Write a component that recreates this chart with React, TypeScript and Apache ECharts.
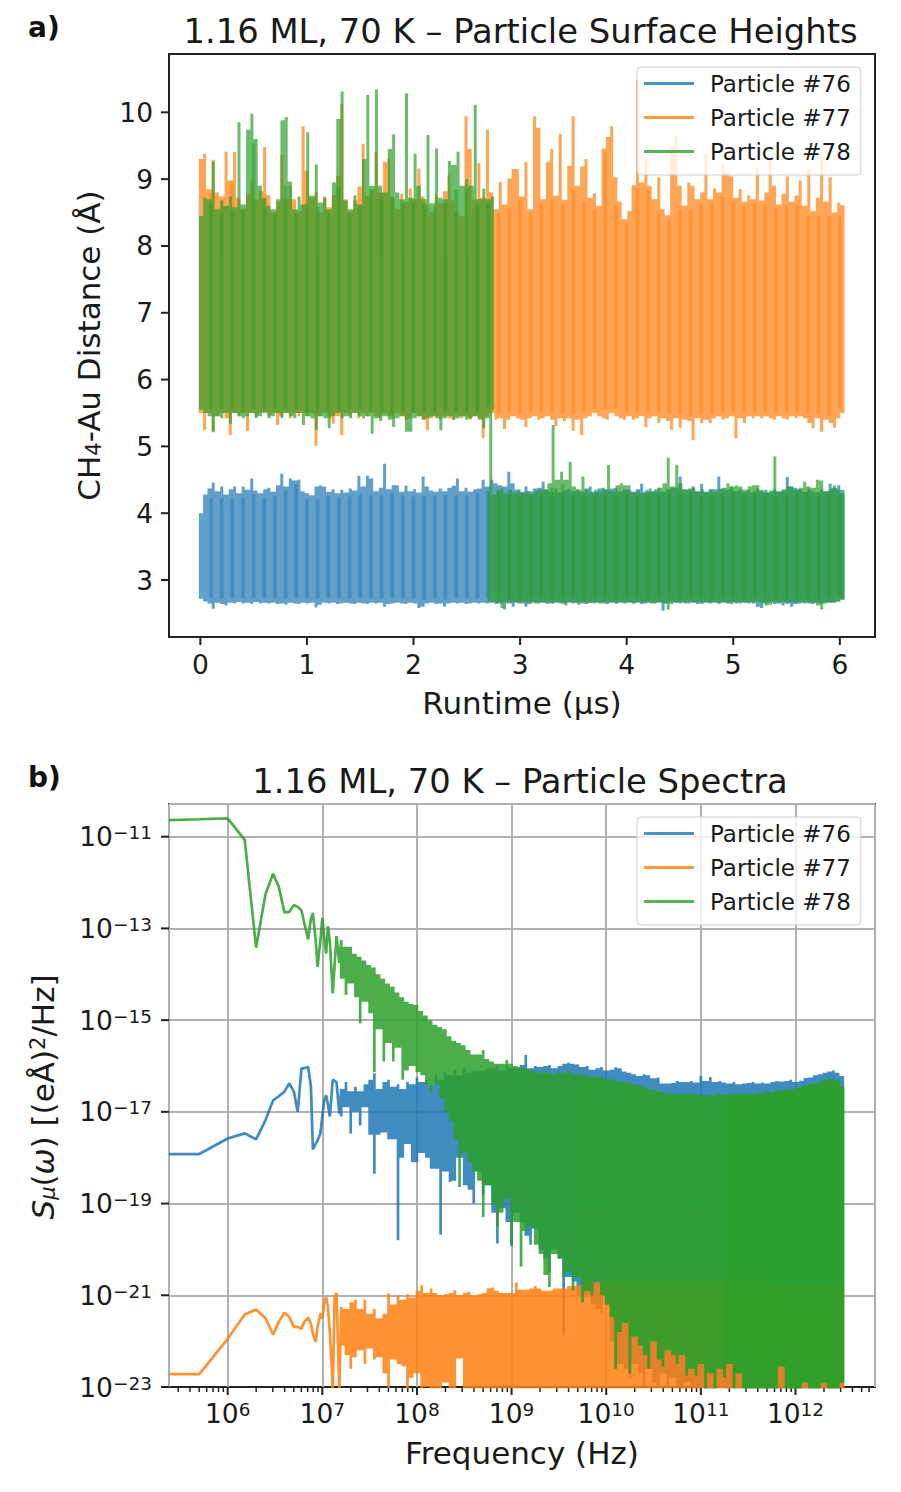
import React, { useEffect, useRef } from "react";
import * as echarts from "echarts";

const names = ["Particle #76", "Particle #77", "Particle #78"];
const colors = ["#1f77b4", "#ff7f0e", "#2ca02c"];

// panel a, sampled every 0.04 us
const high76 = [
  4.0, 4.28, 4.37, 4.46, 4.33, 4.4, 4.28, 4.36, 4.4, 4.3,
  4.4, 4.35, 4.52, 4.34, 4.3, 4.36, 4.38, 4.32, 4.42, 4.59,
  4.4, 4.52, 4.49, 4.5, 4.33, 4.3, 4.27, 4.4, 4.42, 4.4,
  4.32, 4.36, 4.3, 4.35, 4.31, 4.37, 4.34, 4.56, 4.4, 4.56,
  4.52, 4.33, 4.38, 4.74, 4.36, 4.42, 4.42, 4.32, 4.41, 4.33,
  4.36, 4.31, 4.55, 4.4, 4.34, 4.32, 4.37, 4.33, 4.38, 4.41,
  4.52, 4.33, 4.38, 4.32, 4.36, 4.37, 4.5, 4.4, 4.5, 4.45,
  4.42, 4.4, 4.62, 4.45, 4.35, 4.32, 4.4, 4.33, 4.37, 4.38,
  4.47, 4.35, 4.32, 4.37, 4.31, 4.34, 4.37, 4.33, 4.36, 4.32,
  4.37, 4.4, 4.32, 4.37, 4.38, 4.35, 4.37, 4.38, 4.33, 4.36,
  4.42, 4.32, 4.36, 4.44, 4.32, 4.37, 4.33, 4.38, 4.32, 4.36,
  4.38, 4.38, 4.55, 4.36, 4.35, 4.4, 4.33, 4.44, 4.32, 4.36,
  4.36, 4.55, 4.37, 4.35, 4.4, 4.33, 4.36, 4.32, 4.35, 4.31,
  4.37, 4.33, 4.35, 4.31, 4.36, 4.33, 4.35, 4.54, 4.4, 4.38,
  4.36, 4.32, 4.37, 4.34, 4.31, 4.36, 4.33, 4.44, 4.38, 4.42, 4.35,
];
const low76 = [
  2.72, 2.68, 2.65, 2.57, 2.66, 2.64, 2.62, 2.66, 2.65, 2.67,
  2.65, 2.66, 2.64, 2.67, 2.65, 2.66, 2.65, 2.66, 2.64, 2.65,
  2.63, 2.66, 2.65, 2.64, 2.66, 2.65, 2.66, 2.59, 2.63, 2.66,
  2.65, 2.66, 2.64, 2.65, 2.66, 2.65, 2.64, 2.66, 2.65, 2.64,
  2.66, 2.65, 2.66, 2.6, 2.64, 2.65, 2.66, 2.65, 2.64, 2.66,
  2.65, 2.58, 2.6, 2.65, 2.66, 2.64, 2.65, 2.6, 2.65, 2.66,
  2.65, 2.66, 2.64, 2.65, 2.66, 2.65, 2.66, 2.65, 2.66, 2.64,
  2.65, 2.56, 2.65, 2.6, 2.66, 2.65, 2.6, 2.64, 2.66, 2.65,
  2.66, 2.64, 2.65, 2.66, 2.65, 2.64, 2.66, 2.65, 2.66, 2.65,
  2.64, 2.66, 2.65, 2.66, 2.65, 2.64, 2.66, 2.65, 2.66, 2.65,
  2.66, 2.65, 2.66, 2.64, 2.65, 2.66, 2.65, 2.66, 2.54, 2.65,
  2.64, 2.66, 2.65, 2.66, 2.65, 2.66, 2.64, 2.65, 2.66, 2.65,
  2.66, 2.65, 2.66, 2.65, 2.64, 2.66, 2.65, 2.66, 2.65, 2.66,
  2.6, 2.58, 2.65, 2.66, 2.64, 2.65, 2.62, 2.65, 2.6, 2.64,
  2.65, 2.66, 2.65, 2.64, 2.66, 2.65, 2.65, 2.66, 2.66, 2.68, 2.72,
];
const high77 = [
  9.3, 9.38, 8.85, 9.29, 8.8, 8.74, 9.41, 8.98, 9.41, 8.72,
  8.55, 8.78, 8.98, 8.7, 8.82, 9.48, 8.76, 8.5, 8.66, 9.36,
  8.7, 8.9, 8.7, 8.52, 9.79, 9.13, 8.72, 8.8, 8.5, 8.74,
  8.58, 8.76, 9.05, 10.12, 8.7, 8.52, 8.68, 8.89, 9.53, 8.75,
  8.85, 9.4, 8.8, 9.26, 9.31, 8.72, 8.55, 8.78, 8.66, 8.86,
  8.7, 9.16, 8.74, 8.62, 8.5, 8.76, 8.64, 8.82, 9.06, 8.68,
  8.52, 8.45, 9.94, 9.45, 8.7, 9.24, 8.72, 9.74, 8.8, 8.55,
  8.96, 8.62, 9.01, 9.15, 9.15, 8.74, 9.26, 8.55, 9.94, 9.77,
  8.7, 9.26, 9.45, 8.75, 9.68, 8.69, 9.2, 9.94, 8.9, 9.19,
  9.3, 8.72, 8.79, 8.6, 9.46, 9.63, 9.79, 9.03, 8.66, 8.4,
  8.52, 8.91, 10.48, 8.95, 9.31, 8.9, 8.7, 9.03, 8.55, 8.46,
  9.49, 9.65, 8.9, 8.6, 8.95, 8.9, 8.7, 8.8, 9.38, 8.7,
  8.86, 8.8, 9.21, 9.09, 9.04, 8.72, 8.85, 8.66, 8.76, 8.7,
  9.16, 8.68, 8.8, 9.29, 8.9, 8.62, 8.78, 9.04, 8.66, 8.75,
  8.98, 8.6, 9.14, 8.52, 8.72, 9.33, 8.66, 9.03, 8.5, 8.65, 8.61,
];
const low77 = [
  5.5, 5.24, 5.5, 5.23, 5.45, 5.5, 5.42, 5.17, 5.5, 5.45,
  5.5, 5.23, 5.5, 5.45, 5.5, 5.52, 5.45, 5.5, 5.32, 5.45,
  5.5, 5.42, 5.5, 5.45, 5.5, 5.45, 5.5, 5.01, 5.45, 5.5,
  5.42, 5.34, 5.45, 5.17, 5.5, 5.45, 5.5, 5.42, 5.5, 5.45,
  5.5, 5.45, 5.42, 5.5, 5.45, 5.42, 5.5, 5.45, 5.4, 5.42,
  5.5, 5.45, 5.4, 5.24, 5.42, 5.45, 5.4, 5.45, 5.42, 5.4,
  5.45, 5.42, 5.45, 5.4, 5.45, 5.42, 5.12, 5.45, 5.5, 5.4,
  5.42, 5.26, 5.4, 5.45, 5.42, 5.4, 5.29, 5.42, 5.45, 5.4,
  5.42, 5.45, 5.4, 5.3, 5.42, 5.38, 5.42, 5.23, 5.4, 5.17,
  5.42, 5.45, 5.5, 5.45, 5.42, 5.4, 5.5, 5.45, 5.42, 5.4,
  5.45, 5.4, 5.42, 5.45, 5.29, 5.42, 5.45, 5.35, 5.42, 5.38,
  5.25, 5.42, 5.28, 5.4, 5.38, 5.09, 5.42, 5.35, 5.4, 5.35,
  5.42, 5.45, 5.4, 5.42, 5.45, 5.12, 5.42, 5.35, 5.45, 5.42,
  5.45, 5.42, 5.45, 5.42, 5.4, 5.45, 5.42, 5.4, 5.45, 5.42,
  5.45, 5.42, 5.35, 5.27, 5.42, 5.22, 5.4, 5.35, 5.28, 5.42, 5.5,
];
// particle 78 sits on the upper state up to 2.74 us, then drops to the lower one
const high78a = [
  8.45, 8.72, 8.7, 9.26, 8.55, 8.68, 8.6, 8.74, 8.58, 9.85,
  8.62, 9.74, 9.98, 9.6, 8.9, 8.72, 8.6, 8.55, 8.7, 9.88,
  9.93, 8.96, 8.55, 8.74, 8.62, 9.7, 8.75, 9.22, 8.65, 8.72,
  8.55, 8.95, 9.9, 10.31, 8.68, 8.55, 8.76, 8.62, 9.3, 10.26,
  8.9, 10.34, 8.9, 8.8, 9.45, 9.67, 8.8, 8.7, 10.28, 8.72,
  9.38, 8.9, 8.7, 9.66, 8.64, 9.46, 8.72, 8.7, 9.27, 9.21,
  9.41, 8.9, 9.0, 8.9, 10.11, 8.7, 8.86, 8.7, 8.74,
];
const low78a = [
  5.55, 5.5, 5.45, 5.21, 5.45, 5.42, 5.5, 5.34, 5.5, 5.45,
  5.42, 5.45, 5.5, 5.42, 5.45, 5.5, 5.42, 5.45, 5.5, 5.42,
  5.5, 5.45, 5.42, 5.5, 5.32, 5.45, 5.42, 5.25, 5.45, 5.42,
  5.27, 5.45, 5.5, 5.42, 5.45, 5.42, 5.5, 5.45, 5.42, 5.45,
  5.19, 5.42, 5.38, 5.45, 5.4, 5.29, 5.42, 5.45, 5.22, 5.22,
  5.42, 5.45, 5.4, 5.42, 5.45, 5.42, 5.24, 5.42, 5.45, 5.4,
  5.42, 5.45, 5.4, 5.42, 5.45, 5.4, 5.27, 5.42, 5.55,
];
const high78b = [
  4.32, 4.28, 4.35, 4.37, 4.3, 4.35, 4.31, 4.36, 4.3, 4.33,
  4.29, 4.34, 4.35, 4.36, 4.45, 5.32, 4.5, 4.62, 4.5, 4.77,
  4.4, 4.35, 4.55, 4.36, 4.31, 4.35, 4.32, 4.36, 4.72, 4.33,
  4.42, 4.45, 4.42, 4.35, 4.31, 4.34, 4.3, 4.35, 4.32, 4.36,
  4.38, 4.45, 4.83, 4.4, 4.72, 4.45, 4.35, 4.37, 4.38, 4.32,
  4.36, 4.31, 4.35, 4.32, 4.36, 4.38, 4.45, 4.4, 4.42, 4.4,
  4.35, 4.4, 4.42, 4.42, 4.35, 4.31, 4.34, 4.85, 4.32, 4.35,
  4.4, 4.4, 4.35, 4.38, 4.47, 4.4, 4.38, 4.5, 4.49, 4.33,
  4.35, 4.42, 4.35, 4.3,
];
const low78b = [
  2.68, 2.67, 2.66, 2.58, 2.67, 2.66, 2.67, 2.65, 2.67, 2.66,
  2.67, 2.65, 2.67, 2.66, 2.67, 2.65, 2.67, 2.66, 2.62, 2.67,
  2.66, 2.63, 2.67, 2.65, 2.66, 2.67, 2.65, 2.67, 2.66, 2.67,
  2.65, 2.67, 2.66, 2.67, 2.65, 2.67, 2.66, 2.67, 2.65, 2.66,
  2.67, 2.65, 2.56, 2.67, 2.66, 2.67, 2.65, 2.67, 2.66, 2.67,
  2.65, 2.67, 2.66, 2.67, 2.65, 2.67, 2.66, 2.67, 2.65, 2.67,
  2.66, 2.67, 2.65, 2.67, 2.66, 2.62, 2.63, 2.67, 2.66, 2.67,
  2.65, 2.67, 2.66, 2.67, 2.65, 2.67, 2.66, 2.62, 2.56, 2.67,
  2.66, 2.67, 2.68, 2.7,
];
// the single jump between the two states of particle 78
const drop78 = [
  [2.725, 5.6],
  [2.725, 4.3],
];

// panel b, log10 of frequency and of S, read point by point at the low end
const lowFreq78 = [5.38, 5.7, 6, 6.18, 6.3, 6.4, 6.48, 6.54, 6.6, 6.65, 6.7, 6.74, 6.78, 6.81, 6.85, 6.88, 6.9, 6.93, 6.95, 6.98, 7, 7.02, 7.04, 7.06, 7.08, 7.11, 7.15, 7.18];
const lowVal78 = [-10.64, -10.62, -10.6, -11.07, -13.42, -12.25, -11.81, -12.09, -12.65, -12.64, -12.49, -12.53, -12.61, -12.89, -13.24, -12.78, -12.66, -13.25, -13.84, -13.25, -12.77, -13.2, -13.55, -12.95, -13.3, -14.42, -13.17, -13.75];
const lowFreq76 = [5.38, 5.7, 6, 6.18, 6.3, 6.4, 6.48, 6.54, 6.6, 6.65, 6.7, 6.74, 6.78, 6.81, 6.85, 6.88, 6.9, 6.93, 6.95, 6.98, 7, 7.02, 7.04, 7.06, 7.08, 7.11, 7.15, 7.18];
const lowVal76 = [-17.92, -17.92, -17.58, -17.47, -17.6, -17.18, -16.75, -16.66, -16.56, -16.38, -16.56, -17.0, -16.05, -16.05, -16.02, -16.45, -17.82, -17.7, -17.62, -17.47, -17.1, -16.75, -16.64, -16.85, -17.1, -16.3, -16.35, -17.04];
const lowFreq77 = [5.38, 5.7, 6, 6.18, 6.3, 6.4, 6.48, 6.54, 6.6, 6.65, 6.7, 6.74, 6.78, 6.81, 6.85, 6.88, 6.9, 6.93, 6.95, 6.98, 7, 7.02, 7.04, 7.06, 7.08, 7.1, 7.11, 7.13, 7.15, 7.18];
const lowVal77 = [-22.72, -22.72, -21.95, -21.42, -21.31, -21.5, -21.86, -21.58, -21.38, -21.47, -21.69, -21.69, -21.73, -21.58, -21.49, -21.62, -21.84, -22.02, -21.69, -21.4, -21.51, -21.18, -21.04, -21.25, -21.84, -22.56, -23.1, -21.04, -20.95, -23.1];

// panel b dense part, sampled every 0.05 decades from 10^7.2 to 10^12.5
const high76b = [
  -16.5, -16.35, -16.55, -16.45, -16.55, -16.4, -16.3, -16.16, -16.5, -16.35,
  -16.3, -16.45, -16.4, -16.5, -16.35, -16.4, -16.25, -16.35, -16.3, -16.4,
  -16.2, -16.3, -16.15, -16.2, -16.1, -16.2, -16.05, -16.15, -16.1, -16.1,
  -16.1, -16.05, -16.05, -16, -16.1, -15.98, -16.05, -16.05, -15.98, -15.76,
  -16.05, -16, -16.02, -16, -15.98, -16.05, -16, -15.95, -15.93, -15.95,
  -15.97, -16.02, -16, -16.08, -16.05, -16.02, -16.1, -16.08, -16.03, -16.05,
  -16.12, -16.15, -16.18, -16.22, -16.18, -16.2, -16.27, -16.25, -16.38, -16.38,
  -16.37, -16.33, -16.35, -16.35, -16.33, -16.36, -16.22, -16.33, -16.24, -16.35,
  -16.33, -16.36, -16.38, -16.35, -16.4, -16.38, -16.37, -16.35, -16.38, -16.36,
  -16.38, -16.35, -16.33, -16.34, -16.33, -16.3, -16.35, -16.32, -16.26, -16.25,
  -16.2, -16.18, -16.15, -16.12, -16.1, -16.15, -16.22,
];
const low76b = [
  -17.1, -16.9, -17.47, -17.0, -17.3, -16.9, -17.5, -18.35, -17.5, -17.45,
  -17.6, -17.6, -19.8, -18, -17.7, -18.1, -18.1, -17.9, -18, -18.24,
  -18.24, -19.68, -18.3, -18.53, -18.5, -18.0, -18.6, -18.7, -19, -18.3,
  -18.8, -18.6, -19.2, -19.87, -19.1, -19.4, -19.93, -19.2, -19.4, -19.7,
  -19.9, -19.55, -20, -20.2, -20.5, -20, -20.2, -21.87, -20.6, -20.7,
  -21, -21, -21, -21.2, -21.3, -21.4, -21, -22, -22.5, -22.5,
  -22.6, -22.8, -22.5, -22.7, -23, -22.6, -22.9, -23, -22.7, -23,
  -22.8, -23, -23.2, -22.9, -23, -23.2, -23, -23.1, -23.2, -23.3,
  -23, -23.2, -23.1, -23.3, -23.2, -23, -23.3, -23.1, -23.2, -23.3,
  -23.1, -23.2, -23.3, -23.1, -23.2, -23.3, -23.2, -23.1, -23.3, -23.2,
  -23.3, -23.1, -23.2, -23.3, -23.2, -23.1, -23.4,
];
const high77b = [
  -21.25, -21.3, -21.15, -21.1, -21.3, -21.1, -21.4, -21.3, -21.5, -21.4,
  -20.96, -21.2, -21.0, -21.1, -20.98, -21.05, -20.9, -20.78, -20.95, -20.85,
  -20.95, -21, -20.98, -20.95, -20.89, -21, -20.95, -20.92, -21, -20.98,
  -20.95, -20.85, -20.83, -20.9, -20.95, -20.95, -20.95, -20.72, -20.88, -20.88,
  -20.85, -20.8, -20.85, -20.9, -20.9, -20.85, -20.85, -20.85, -20.8, -20.8,
  -20.78, -20.75, -20.68, -20.7, -20.72, -20.7, -20.68, -20.7, -20.7, -20.68,
  -20.7, -20.68, -20.7, -20.66, -20.68, -20.7, -20.68, -20.66, -20.7, -20.68,
  -20.7, -20.66, -20.68, -20.7, -20.66, -20.68, -20.7, -20.66, -20.68, -20.65,
  -20.68, -20.66, -20.7, -20.65, -20.68, -20.66, -20.7, -20.68, -20.66, -20.7,
  -20.72, -20.7, -20.75, -20.72, -20.75, -20.7, -20.75, -20.72, -20.75, -20.7,
  -20.75, -20.72, -20.7, -20.75, -20.72, -20.75, -20.8,
];
const low77b = [
  -22.1, -22.3, -22.6, -22.35, -22.2, -22.5, -22.16, -22.4, -22.35, -22.7,
  -23.1, -22.4, -22.5, -22.55, -23.1, -22.8, -22.7, -23.1, -23, -23.2,
  -23.3, -23.1, -22.9, -23.2, -23.4, -22.38, -23.2, -23.3, -23.2, -23.4,
  -23.3, -23.4, -23.2, -23.4, -23.3, -23.4, -23.5, -23.3, -23.4, -23.5,
  -23.3, -23.4, -23.5, -23.3, -23.4, -23.5, -23.4, -23.5, -23.3, -23.4,
  -23.5, -23.4, -23.3, -23.5, -23.4, -23.5, -23.3, -23.4, -23.5, -23.4,
  -23.5, -23.4, -23.5, -23.3, -23.4, -23.5, -23.4, -23.5, -23.4, -23.3,
  -23.5, -23.4, -23.5, -23.4, -23.3, -23.5, -23.4, -23.5, -23.4, -23.5,
  -23.4, -23.5, -23.3, -23.4, -23.5, -23.4, -23.5, -23.4, -23.3, -23.5,
  -23.4, -23.5, -23.4, -23.5, -23.3, -23.4, -23.5, -23.4, -23.5, -23.4,
  -23.5, -23.4, -23.5, -23.3, -23.4, -23.5, -23.5,
];
const high78c = [
  -13.25, -13.4, -13.4, -13.55, -13.62, -13.7, -13.8, -13.85, -14, -14.1,
  -14.2, -14.27, -14.4, -14.5, -14.6, -14.65, -14.67, -14.8, -14.9, -15,
  -15.1, -15.15, -15.2, -15.35, -15.45, -15.5, -15.55, -15.65, -15.75, -15.75,
  -15.65, -15.85, -15.9, -15.95, -15.95, -15.87, -15.95, -16, -16.02, -16.05,
  -16.1, -16.12, -16.15, -16.12, -16.15, -16.17, -16.12, -16.15, -16.12, -16.15,
  -16.18, -16.2, -16.2, -16.25, -16.22, -16.25, -16.28, -16.3, -16.3, -16.35,
  -16.35, -16.38, -16.4, -16.42, -16.45, -16.5, -16.5, -16.55, -16.58, -16.6,
  -16.6, -16.62, -16.6, -16.62, -16.6, -16.62, -16.64, -16.63, -16.65, -16.62,
  -16.6, -16.63, -16.6, -16.62, -16.6, -16.62, -16.6, -16.62, -16.58, -16.6,
  -16.55, -16.58, -16.52, -16.55, -16.5, -16.52, -16.48, -16.45, -16.42, -16.4,
  -16.38, -16.35, -16.3, -16.28, -16.3, -16.32, -16.45,
];
const low78c = [
  -14.1, -14.45, -14.2, -14.5, -15.07, -14.6, -14.85, -16.13, -15.2, -15.9,
  -15.5, -15.9, -15.6, -16.3, -16.1, -16, -16.13, -16.2, -16.4, -16.6,
  -16.4, -16.7, -17, -17.2, -17.6, -18.64, -17.9, -18.1, -18.3, -18.5,
  -19.3, -18.6, -19, -19.5, -19.2, -18.9, -19.9, -19.4, -20.38, -19.6,
  -19.5, -19.9, -20.1, -20.56, -20.82, -20.1, -20.2, -20.6, -20.5, -20.9,
  -20.6, -21.15, -20.9, -21, -20.7, -21, -21.2, -21.47, -22.6, -21.8,
  -21.6, -22.7, -21.9, -22.1, -22.3, -22.6, -22, -22.4, -22.56, -22.2,
  -22.3, -22.5, -22.3, -22.75, -22.6, -22.75, -22.5, -23.1, -22.7, -23.2,
  -22.6, -22.8, -22.5, -23.2, -22.7, -23.2, -23.1, -23.2, -23.2, -23.3,
  -23.3, -23.3, -23.3, -22.55, -23.3, -23.3, -23.3, -23.3, -22.9, -23.3,
  -23.3, -23.3, -22.9, -23.3, -23.3, -23.3, -22.9,
];

// tick positions
const runtimeTicks = [0, 1, 2, 3, 4, 5, 6];
const distanceTicks = [3, 4, 5, 6, 7, 8, 9, 10];
const freqDecades = [6, 7, 8, 9, 10, 11, 12];
const specDecades = [-23, -21, -19, -17, -15, -13, -11];
const minorMantissas = [2, 3, 4, 5, 6, 7, 8, 9];
const minorDecades = [5, 6, 7, 8, 9, 10, 11, 12];

const font = "DejaVu Sans";
const minA = [-0.294, 2.147];
const maxA = [6.33, 10.873];
const logMinX = 5.38;
const logMaxX = 12.84;
const logMaxY = -10.287;

// one upright stroke per sample, with a filler stroke half way that covers what
// both neighbours share, so the band stays solid and one path keeps one opacity
const band = (start: number, step: number, highs: number[], lows: number[]) => {
  const out: (number | null)[][] = [];
  highs.forEach((h, i) => {
    const x = start + i * step;
    out.push([x, h], [x, lows[i]], [x, null]);
    if (i < highs.length - 1) {
      const top = Math.min(h, highs[i + 1]);
      const bottom = Math.max(lows[i], lows[i + 1]);
      if (top > bottom) out.push([x + step / 2, top], [x + step / 2, bottom], [x + step / 2, null]);
    }
  });
  return out;
};

// the darker upright bands every 0.1 us, as tall as the samples around them allow
const strips = (
  start: number,
  step: number,
  highs: number[],
  lows: number[],
  from: number,
  to: number,
) => {
  const out: (number | null)[][] = [];
  for (let t = from; t <= to + 1e-6; t += 0.1) {
    const i = Math.round((t - start) / step);
    const hs = highs.slice(Math.max(i - 1, 0), i + 2);
    const ls = lows.slice(Math.max(i - 1, 0), i + 2);
    out.push([t, Math.min(...hs) - 0.06], [t, Math.max(...ls) + 0.06], [t, null]);
  }
  return out;
};

const toLog = (rows: (number | null)[][]) =>
  rows.map(([x, y]) => [10 ** (x as number), y === null ? null : 10 ** y]);

const lineSeries = (
  name: string,
  color: string,
  data: any[],
  index: number,
  width: number,
  opacity: number,
) => ({
  name,
  type: "line",
  xAxisIndex: index,
  yAxisIndex: index,
  data,
  symbol: "none",
  showSymbol: false,
  silent: true,
  clip: true,
  lineStyle: { color, width, opacity },
  itemStyle: { color },
});

// ticks are drawn here so that none appears at the ends of the axes
const tickSeries = (index: number, data: number[][], dx: number, dy: number, width: number) => ({
  type: "custom",
  xAxisIndex: index,
  yAxisIndex: index,
  silent: true,
  data,
  renderItem: (_params: any, api: any) => {
    const p = api.coord([api.value(0), api.value(1)]);
    return {
      type: "line",
      shape: { x1: p[0], y1: p[1], x2: p[0] + dx, y2: p[1] + dy },
      style: { stroke: "#222222", lineWidth: width },
    };
  },
});

const expRich = {
  b: { fontFamily: font, fontSize: 26.5, fill: "#1a1a1a", color: "#1a1a1a" },
  e: { fontFamily: font, fontSize: 18.5, fill: "#1a1a1a", color: "#1a1a1a", verticalAlign: "top" },
};

// powers of ten for the log axes, third value of each row is the exponent
const powerLabels = (data: number[][], dx: number, dy: number, align: string, verticalAlign: string) => ({
  type: "custom",
  xAxisIndex: 1,
  yAxisIndex: 1,
  silent: true,
  data,
  renderItem: (_params: any, api: any) => {
    const p = api.coord([api.value(0), api.value(1)]);
    const n = api.value(2);
    return {
      type: "text",
      x: p[0] + dx,
      y: p[1] + dy,
      style: {
        text: `{b|10}{e|${n < 0 ? "\u2212" + -n : n}}`,
        rich: expRich,
        align,
        verticalAlign,
      },
    };
  },
});

const legendFor = (top: number) => ({
  data: names.map((name) => ({ name, itemStyle: { opacity: 0.8 } })),
  orient: "vertical",
  left: 637,
  top,
  icon: "rect",
  itemWidth: 50,
  itemHeight: 3,
  itemGap: 11,
  padding: [5, 10, 12, 7],
  backgroundColor: "rgba(255,255,255,0.8)",
  borderColor: "#cccccc",
  borderWidth: 1,
  borderRadius: 4,
  textStyle: { fontFamily: font, fontSize: 23, color: "#1a1a1a", padding: [0, 0, 0, 11] },
});

const axisBits = {
  axisLine: { show: false, onZero: false },
  axisTick: { show: false },
};

const App: React.FC = () => {
  const chartRef = useRef<HTMLDivElement>(null);

  useEffect(() => {
    const chartDom = chartRef.current;
    if (!chartDom) return;
    const myChart = echarts.init(chartDom, undefined, { renderer: "svg" });

    const data76 = band(0, 0.0402, high76, low76);
    const data77 = band(0, 0.0402, high77, low77);
    const data78 = [
      ...band(0, 0.0403, high78a, low78a),
      [2.74, null],
      ...drop78,
      [2.72, null],
      ...band(2.71, 0.04, high78b, low78b),
    ];

    const pairs = (xs: number[], ys: number[]) => xs.map((x, i) => [x, ys[i]]);
    const spec76 = toLog([...pairs(lowFreq76, lowVal76), ...band(7.2, 0.05, high76b, low76b)]);
    const spec77 = toLog([...pairs(lowFreq77, lowVal77), ...band(7.2, 0.05, high77b, low77b)]);
    const spec78 = toLog([...pairs(lowFreq78, lowVal78), ...band(7.2, 0.05, high78c, low78c)]);
    // the curve is so dense at high frequency that it nearly hides what lies below
    const spec78mid = toLog(band(9.7, 0.05, high78c.slice(50, 82), low78c.slice(50, 82)));
    const spec78end = toLog(band(11.25, 0.05, high78c.slice(81), low78c.slice(81)));

    const xMinorMarks = minorDecades
      .flatMap((d) => minorMantissas.map((m) => m * 10 ** d))
      .filter((v) => v > 10 ** logMinX && v < 10 ** logMaxX)
      .map((v) => [v, 1e-23]);

    const option: any = {
      animation: false,
      backgroundColor: "#ffffff",
      title: [
        {
          text: "1.16 ML, 70 K \u2013 Particle Surface Heights",
          left: 515.5,
          top: 9,
          textAlign: "center",
          textStyle: { fontFamily: font, fontSize: 33.8, fontWeight: "normal", color: "#1a1a1a" },
        },
        {
          text: "1.16 ML, 70 K \u2013 Particle Spectra",
          left: 515,
          top: 759,
          textAlign: "center",
          textStyle: { fontFamily: font, fontSize: 33.8, fontWeight: "normal", color: "#1a1a1a" },
        },
        {
          text: "a)",
          left: 23,
          top: 8,
          textStyle: { fontFamily: font, fontSize: 28, fontWeight: "bold", color: "#111111" },
        },
        {
          text: "b)",
          left: 23,
          top: 758,
          textStyle: { fontFamily: font, fontSize: 28, fontWeight: "bold", color: "#111111" },
        },
      ],
      legend: [legendFor(67), legendFor(817)],
      grid: [
        { left: 169, top: 54, width: 706, height: 583, show: true, borderColor: "#222222", borderWidth: 2, outerBoundsMode: "none" },
        { left: 169, top: 804, width: 706, height: 583, show: true, borderColor: "#222222", borderWidth: 2, outerBoundsMode: "none" },
      ],
      graphic: [
        {
          type: "text",
          x: 43,
          y: 1097,
          rotation: Math.PI / 2,
          style: {
            text: "{i|S}{u|\u03bc}{n|(}{i|\u03c9}{n|) [(e\u00c5)}{p|2}{n|/Hz]}",
            align: "center",
            verticalAlign: "middle",
            fill: "#1a1a1a",
            rich: {
              i: { fontFamily: font, fontSize: 31, fontStyle: "italic", fill: "#1a1a1a" },
              n: { fontFamily: font, fontSize: 31, fill: "#1a1a1a" },
              u: { fontFamily: font, fontSize: 21, fontStyle: "italic", fill: "#1a1a1a", verticalAlign: "bottom" },
              p: { fontFamily: font, fontSize: 21, fill: "#1a1a1a", verticalAlign: "top" },
            },
          },
        },
      ],
      xAxis: [
        {
          type: "value",
          gridIndex: 0,
          min: minA[0],
          max: maxA[0],
          minInterval: 1,
          maxInterval: 1,
          splitLine: { show: false },
          ...axisBits,
          axisLabel: { fontFamily: font, fontSize: 26.5, color: "#1a1a1a", margin: 14, customValues: runtimeTicks },
          name: "Runtime (\u00b5s)",
          nameLocation: "middle",
          nameGap: 50,
          nameTextStyle: { fontFamily: font, fontSize: 31, color: "#1a1a1a" },
        },
        {
          type: "log",
          gridIndex: 1,
          min: 10 ** logMinX,
          max: 10 ** logMaxX,
          splitLine: { show: true, lineStyle: { color: "#b0b0b0", width: 2 } },
          ...axisBits,
          axisLabel: { show: false },
          name: "Frequency (Hz)",
          nameLocation: "middle",
          nameGap: 50,
          nameTextStyle: { fontFamily: font, fontSize: 31, color: "#1a1a1a" },
        },
      ],
      yAxis: [
        {
          type: "value",
          gridIndex: 0,
          min: minA[1],
          max: maxA[1],
          minInterval: 1,
          maxInterval: 1,
          splitLine: { show: false },
          ...axisBits,
          axisLabel: { fontFamily: font, fontSize: 26.5, color: "#1a1a1a", margin: 16, customValues: distanceTicks },
          name: "CH{s|4}-Au Distance (\u00c5)",
          nameLocation: "middle",
          nameGap: 65,
          nameTextStyle: {
            fontFamily: font,
            fontSize: 31,
            color: "#1a1a1a",
            rich: {
              s: { fontFamily: font, fontSize: 21, color: "#1a1a1a", verticalAlign: "bottom" },
            },
          },
        },
        {
          type: "log",
          gridIndex: 1,
          min: 1e-23,
          max: 10 ** logMaxY,
          interval: 2,
          splitLine: { show: true, lineStyle: { color: "#b0b0b0", width: 2 } },
          ...axisBits,
          axisLabel: { show: false },
        },
      ],
      series: [
        lineSeries(names[0], colors[0], data76, 0, 3, 0.7),
        lineSeries("strip76", colors[0], strips(0, 0.0402, high76, low76, 0.1, 6), 0, 3.5, 0.5),
        lineSeries(names[1], colors[1], data77, 0, 3, 0.7),
        lineSeries("strip77", colors[1], strips(0, 0.0402, high77, low77, 0.1, 6), 0, 3.5, 0.5),
        lineSeries(names[2], colors[2], data78, 0, 3, 0.7),
        lineSeries("strip78a", colors[2], strips(0, 0.0403, high78a, low78a, 0.1, 2.7), 0, 3.5, 0.5),
        lineSeries("strip78b", colors[2], strips(2.71, 0.04, high78b, low78b, 2.8, 6), 0, 3.5, 0.5),
        lineSeries(names[0], colors[0], spec76, 1, 2.7, 0.85),
        lineSeries(names[1], colors[1], spec77, 1, 2.7, 0.85),
        lineSeries(names[2], colors[2], spec78, 1, 2.7, 0.85),
        lineSeries("dense78a", colors[2], spec78mid, 1, 2.7, 0.35),
        lineSeries("dense78b", colors[2], spec78end, 1, 2.7, 0.75),
        tickSeries(0, runtimeTicks.map((t) => [t, minA[1]]), 0, 8, 2),
        tickSeries(0, distanceTicks.map((d) => [minA[0], d]), -8, 0, 2),
        tickSeries(1, freqDecades.map((d) => [10 ** d, 1e-23]), 0, 8, 2),
        tickSeries(1, specDecades.map((d) => [10 ** logMinX, 10 ** d]), -8, 0, 2),
        tickSeries(1, xMinorMarks, 0, 5, 1.5),
        powerLabels(freqDecades.map((d) => [10 ** d, 1e-23, d]), 0, 13, "center", "top"),
        powerLabels(specDecades.map((d) => [10 ** logMinX, 10 ** d, d]), -17, 0, "right", "middle"),
      ],
    };

    myChart.setOption(option);

    return () => {
      myChart.dispose();
    };
  }, []);

  return (
    <div
      ref={chartRef}
      style={{ position: "absolute", left: 0, top: 0, width: 901, height: 1492 }}
    />
  );
};

export default App;
